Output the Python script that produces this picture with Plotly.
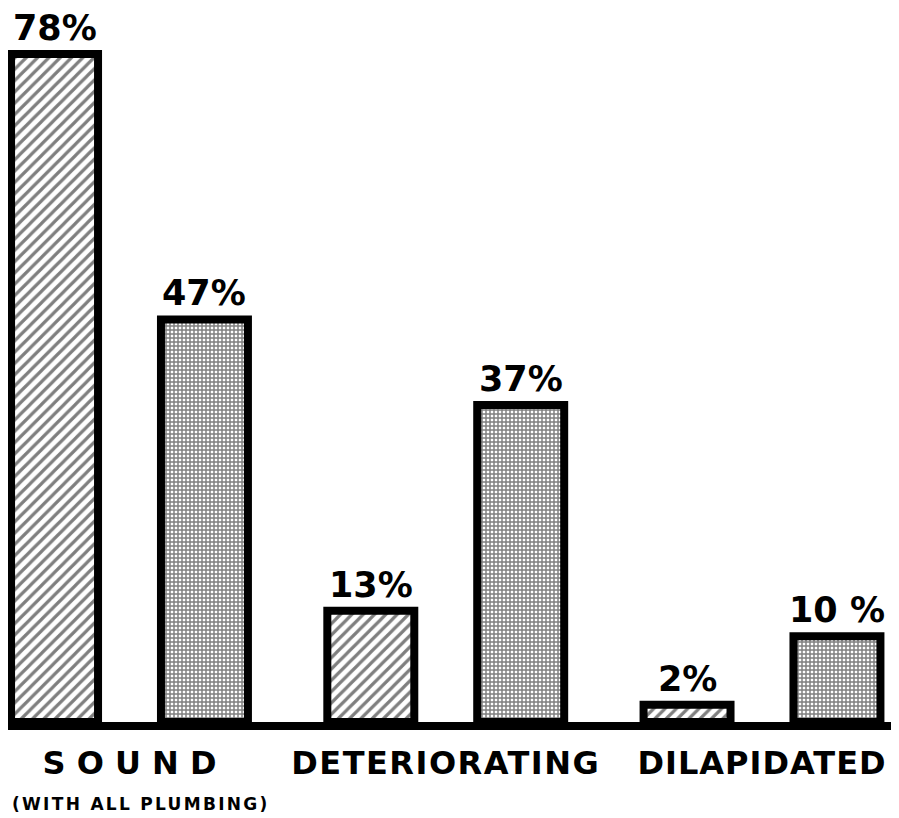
import plotly.graph_objects as go

categories = ["SOUND", "DETERIORATING", "DILAPIDATED"]
tick_labels = [
    "S O U N D",
    "<span style='letter-spacing:1.5px'>DETERIORATING</span>",
    "<span style='letter-spacing:1px'>DILAPIDATED</span>",
]
sub_label = "<span style='letter-spacing:2.3px'>(WITH ALL PLUMBING)</span>"
series_a = [78, 13, 2]    # hatched bars
series_b = [47, 37, 10]   # cross-hatched bars
labels_a = ["78%", "13%", "2%"]
labels_b = ["47%", "37%", "10 %"]

FONT = "DejaVu Sans"
BAR_W = 0.275
HALF = 0.237
X = [0, 1, 2]

fig = go.Figure()
fig.add_trace(go.Bar(
    x=X, y=series_a, width=BAR_W, offset=-HALF - BAR_W / 2,
    marker=dict(color="white", line=dict(color="black", width=8),
                pattern=dict(shape="/", fgcolor="black", bgcolor="white",
                             size=8, solidity=0.4)),
    showlegend=False,
))
fig.add_trace(go.Bar(
    x=X, y=series_b, width=BAR_W, offset=HALF - BAR_W / 2,
    marker=dict(color="white", line=dict(color="black", width=8),
                pattern=dict(shape="+", fgcolor="black", bgcolor="white",
                             size=4, solidity=0.6)),
    showlegend=False,
))

for ys, ls, dx in [(series_a, labels_a, -HALF), (series_b, labels_b, HALF)]:
    for xv, yv, lab in zip(X, ys, ls):
        fig.add_annotation(
            x=xv + dx, y=yv, text=lab, showarrow=False,
            xanchor="center", yanchor="bottom", yshift=4,
            font=dict(family=FONT, size=35, color="black", weight="bold"),
        )

fig.add_annotation(
    x=X[0], xref="x", y=0, yref="paper", text=sub_label, showarrow=False,
    xanchor="center", yanchor="top", yshift=-70, xshift=11,
    font=dict(family=FONT, size=17, color="black", weight="bold"),
)

fig.update_layout(
    width=891, height=810,
    margin=dict(l=0, r=0, t=0, b=96),
    paper_bgcolor="white", plot_bgcolor="white",
    barmode="overlay",
    font=dict(family=FONT, color="black"),
)
fig.update_xaxes(
    range=[-0.3842, 2.4332], tickmode="array", tickvals=X,
    ticktext=tick_labels, showgrid=False, zeroline=False,
    showline=True, linecolor="black", linewidth=8, ticks="",
    tickfont=dict(family=FONT, size=32, color="black", weight="bold"),
    ticklabelstandoff=6, automargin=False, ticklabeloverflow="allow",
)
fig.update_yaxes(
    range=[0, 83.37], visible=False, showgrid=False, zeroline=False,
    automargin=False,
)

fig.write_html("out.html")
